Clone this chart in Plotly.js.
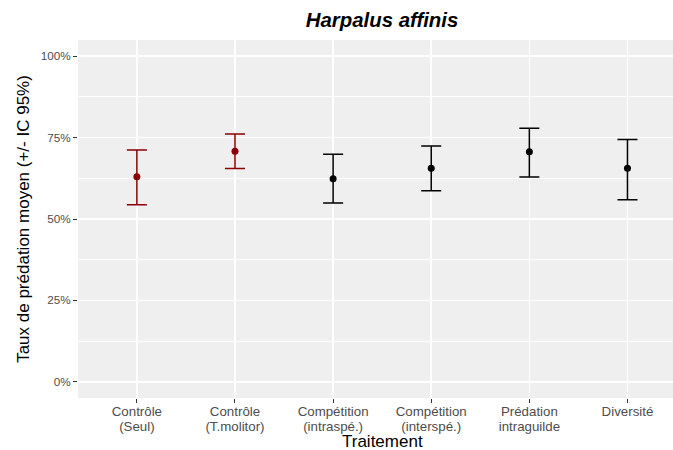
<!DOCTYPE html>
<html>
<head>
<meta charset="utf-8">
<script src="https://cdn.plot.ly/plotly-3.0.1.min.js"></script>
<style>
  html, body { margin: 0; padding: 0; background: #ffffff; }
  #chart { width: 673px; height: 450px; }
</style>
</head>
<body>
<div id="chart"></div>
<script>
// Treatments (x axis)
const treatments = [
  'Contrôle<br>(Seul)',
  'Contrôle<br>(T.molitor)',
  'Compétition<br>(intraspé.)',
  'Compétition<br>(interspé.)',
  'Prédation<br>intraguilde',
  'Diversité'
];
// Mean predation rate and 95% CI bounds
const meanRate = [0.630, 0.708, 0.624, 0.656, 0.707, 0.656];
const ciLower  = [0.544, 0.655, 0.549, 0.587, 0.629, 0.559];
const ciUpper  = [0.712, 0.761, 0.699, 0.724, 0.779, 0.744];
// Control treatments are highlighted in dark red
const isControl = [true, true, false, false, false, false];

const FONT = 'Liberation Sans, Arial, Helvetica, sans-serif';
const RED = '#8B0000';
const BLACK = '#000000';

// Tick labels: text drawn larger than the tick font so the two lines sit close together
const tickText = treatments.map(t => '<span style="font-size:13.3px">' + t + '</span>');

function subset(arr, flag) { return arr.filter((_, i) => isControl[i] === flag); }

function makeTrace(flag, color) {
  const x = subset(treatments, flag);
  const m = subset(meanRate, flag);
  const lo = subset(ciLower, flag);
  const hi = subset(ciUpper, flag);
  return {
    type: 'scatter',
    mode: 'markers',
    x: x,
    y: m,
    marker: { color: color, size: 7 },
    error_y: {
      type: 'data',
      symmetric: false,
      array: hi.map((v, i) => v - m[i]),
      arrayminus: m.map((v, i) => v - lo[i]),
      color: color,
      thickness: 1.5,
      width: 10
    },
    hoverinfo: 'x+y',
    showlegend: false
  };
}

const data = [makeTrace(true, RED), makeTrace(false, BLACK)];

const layout = {
  width: 673,
  height: 450,
  margin: { l: 78, r: 0, t: 40, b: 52, pad: 0 },
  paper_bgcolor: '#ffffff',
  plot_bgcolor: '#EFEFEF',
  font: { family: FONT, color: '#000000' },
  title: {
    text: '<b><i>Harpalus affinis</i></b>',
    font: { family: FONT, size: 20.4, color: '#000000' },
    x: 0.511, xref: 'paper', xanchor: 'center',
    y: 0.956, yref: 'container', yanchor: 'middle'
  },
  xaxis: {
    type: 'category',
    categoryorder: 'array',
    categoryarray: treatments,
    tickvals: treatments,
    ticktext: tickText,
    range: [-0.6, 5.464],
    showgrid: true,
    gridcolor: '#ffffff',
    gridwidth: 1.6,
    zeroline: false,
    showline: false,
    ticks: 'outside',
    ticklen: 4,
    tickwidth: 1,
    tickcolor: '#333333',
    tickfont: { family: FONT, size: 11.2, color: '#4D4D4D' },
    fixedrange: true
  },
  yaxis: {
    range: [-0.05, 1.05],
    tickvals: [0, 0.25, 0.5, 0.75, 1],
    tickformat: '.0%',
    showgrid: true,
    gridcolor: '#ffffff',
    gridwidth: 1.6,
    minor: {
      tick0: 0.125,
      dtick: 0.25,
      showgrid: true,
      gridcolor: '#ffffff',
      gridwidth: 0.9,
      ticks: ''
    },
    zeroline: false,
    showline: false,
    ticks: 'outside',
    ticklen: 4,
    tickwidth: 1,
    tickcolor: '#333333',
    tickfont: { family: FONT, size: 11.7, color: '#4D4D4D' },
    title: {
      text: 'Taux de prédation moyen (+/- IC 95%)',
      font: { family: FONT, size: 17, color: '#000000' },
      standoff: 6
    },
    fixedrange: true
  },
  annotations: [{
    text: 'Traitement',
    xref: 'paper', yref: 'paper',
    x: 0.511, y: -0.152,
    xanchor: 'center', yanchor: 'bottom',
    borderpad: 0,
    showarrow: false,
    font: { family: FONT, size: 17, color: '#000000' }
  }]
};

Plotly.newPlot('chart', data, layout, { displayModeBar: false, staticPlot: true });
</script>
</body>
</html>
